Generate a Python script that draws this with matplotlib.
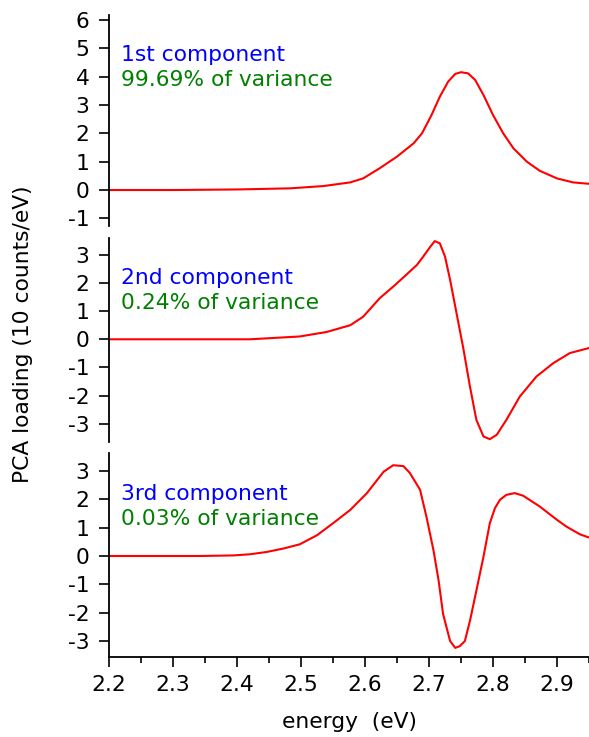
import matplotlib
matplotlib.use("Agg")
import matplotlib.pyplot as plt
from matplotlib.ticker import MultipleLocator

plt.rcParams['font.family'] = ['DejaVu Sans']
plt.rcParams['axes.unicode_minus'] = False

# ---- data ----
e1 = [2.20, 2.30, 2.40, 2.483, 2.535, 2.577, 2.597, 2.623, 2.650, 2.676, 2.689, 2.704, 2.717, 2.730,
      2.741, 2.750, 2.761, 2.772, 2.785, 2.800, 2.816, 2.832, 2.853, 2.873, 2.900, 2.925, 2.95]
v1 = [0.00, 0.00, 0.02, 0.06, 0.14, 0.27, 0.41, 0.77, 1.18, 1.65, 2.00, 2.65, 3.30, 3.83,
      4.10, 4.16, 4.12, 3.89, 3.36, 2.65, 2.00, 1.47, 1.00, 0.68, 0.41, 0.27, 0.22]

e2 = [2.20, 2.30, 2.42, 2.498, 2.540, 2.577, 2.597, 2.623, 2.647, 2.670, 2.681, 2.691, 2.702, 2.709,
      2.717, 2.725, 2.733, 2.743, 2.754, 2.764, 2.774, 2.785, 2.795, 2.806, 2.821, 2.842, 2.868,
      2.894, 2.920, 2.95]
v2 = [0.00, 0.00, 0.00, 0.10, 0.26, 0.50, 0.80, 1.46, 1.93, 2.41, 2.64, 2.94, 3.29, 3.49,
      3.41, 2.94, 2.11, 0.93, -0.37, -1.68, -2.86, -3.45, -3.55, -3.39, -2.86, -2.03, -1.32,
      -0.85, -0.49, -0.31]

e3 = [2.20, 2.342, 2.394, 2.420, 2.446, 2.472, 2.498, 2.525, 2.550, 2.577, 2.603, 2.629, 2.644, 2.660,
      2.670, 2.686, 2.696, 2.707, 2.715, 2.722, 2.733, 2.741, 2.748, 2.756, 2.764, 2.774, 2.785,
      2.795, 2.803, 2.811, 2.821, 2.834, 2.847, 2.873, 2.900, 2.915, 2.936, 2.95]
v3 = [0.00, 0.00, 0.02, 0.06, 0.14, 0.26, 0.41, 0.73, 1.15, 1.62, 2.21, 2.96, 3.19, 3.16,
      2.92, 2.33, 1.38, 0.20, -0.86, -2.04, -2.99, -3.23, -3.17, -2.99, -2.28, -1.22, -0.04,
      1.15, 1.68, 1.98, 2.15, 2.21, 2.12, 1.74, 1.27, 1.03, 0.76, 0.65]

energies = [e1, e2, e3]
loadings = [v1, v2, v3]
names = ["1st component", "2nd component", "3rd component"]
variances = ["99.69% of variance", "0.24% of variance", "0.03% of variance"]
yticks = [list(range(-1, 7)), list(range(-3, 4)), list(range(-3, 4))]
ylims = [(-1.27, 6.18), (-3.65, 3.6), (-3.55, 3.62)]
xticks = [2.2, 2.3, 2.4, 2.5, 2.6, 2.7, 2.8, 2.9]

W, H = 589, 737
fig = plt.figure(figsize=(W / 100, H / 100), dpi=100)

left = 109 / W
panels_px = [(15, 226), (238, 442), (453, 657)]
text_px = [(61, 86), (284, 309), (500, 525)]
fs = 15.7
for i, (top, bot) in enumerate(panels_px):
    h = bot - top
    ax = fig.add_axes([left, 1 - bot / H, 1 - left, h / H])
    ax.plot(energies[i], loadings[i], color='#ff0000', lw=1.5)
    ax.set_xlim(2.2, 2.95)
    ax.set_ylim(*ylims[i])
    ax.set_yticks(yticks[i])
    ax.set_yticklabels([str(t) for t in yticks[i]])
    for s in ['top', 'right']:
        ax.spines[s].set_visible(False)
    ax.spines['left'].set_linewidth(1.3)
    ax.spines['bottom'].set_linewidth(1.3)
    ax.tick_params(axis='y', direction='out', length=7, width=1.2, pad=7, labelsize=fs)
    xt = 12 / (W - 109)
    ax.text(xt, (bot - text_px[i][0]) / h, names[i], transform=ax.transAxes,
            color='#0000ff', fontsize=fs, va='baseline')
    ax.text(xt, (bot - text_px[i][1]) / h, variances[i], transform=ax.transAxes,
            color='#008000', fontsize=fs, va='baseline')
    if i < 2:
        ax.spines['bottom'].set_visible(False)
        ax.tick_params(axis='x', bottom=False, labelbottom=False)
    else:
        ax.set_xticks(xticks)
        ax.set_xticklabels([f"{t:.1f}" for t in xticks])
        ax.xaxis.set_minor_locator(MultipleLocator(0.05))
        ax.tick_params(axis='x', which='major', direction='out', length=7, width=1.2, pad=6, labelsize=fs)
        ax.tick_params(axis='x', which='minor', direction='out', length=4, width=1.2)
        ax.set_xlabel("energy  (eV)", fontsize=fs, labelpad=12)

fig.text(23 / W, 1 - 334 / H, "PCA loading (10 counts/eV)", rotation=90, fontsize=fs,
         ha='center', va='center')

fig.savefig("out.png", dpi=100)
